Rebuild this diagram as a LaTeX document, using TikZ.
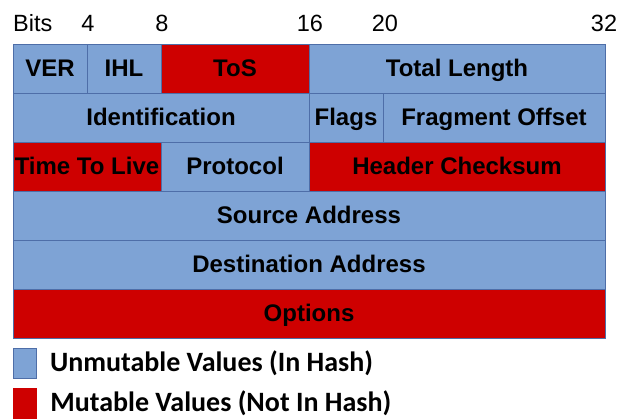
\documentclass[tikz,border=0pt]{standalone}
\usepackage{fontspec}
\setmainfont{Liberation Sans}
\newfontfamily\legendfont{Carlito}
\usetikzlibrary{positioning}
\definecolor{unmut}{RGB}{126,163,213}
\definecolor{mut}{RGB}{206,0,0}
\definecolor{fieldline}{RGB}{78,110,168}

\begin{document}
\begin{tikzpicture}[
      x=1pt, y=1pt,
      field/.style={draw=fieldline, line width=0.8pt, fill=unmut, minimum height=49pt,
        inner sep=0pt, outer sep=0pt, text height=17pt, text depth=0pt,
        font=\bfseries\fontsize{24}{24}\selectfont},
      mutable/.style={field, fill=mut},
      bits/.style={minimum width=#1*18.5pt},
      ruler/.style={font=\fontsize{23.5}{23.5}\selectfont, inner sep=0pt},
      legend/.style={font=\legendfont\bfseries\fontsize{28}{28}\selectfont, inner sep=0pt, anchor=west}
    ]
    \useasboundingbox (0,0) rectangle (619,-419);

    % Bit ruler
    \node[ruler, anchor=west] (bits) at (13,-23) {Bits};
    \node[ruler] (b4) at (88,-23) {4};
    \node[ruler] (b8) at (162,-23) {8};
    \node[ruler] (b16) at (310,-23) {16};
    \node[ruler] (b20) at (385,-23) {20};
    \node[ruler] (b32) at (604,-23) {32};

    % Row 1
    \node[field, bits=4, anchor=north west] (ver) at (13,-44) {VER};
    \node[field, bits=4, right=0pt of ver] (ihl) {IHL};
    \node[mutable, bits=8, right=0pt of ihl] (tos) {ToS};
    \node[field, bits=16, right=0pt of tos] (length) {Total Length};

    % Row 2
    \node[field, bits=16, below=0pt of ver.south west, anchor=north west] (ident) {Identification};
    \node[field, bits=4, right=0pt of ident] (flags) {Flags};
    \node[field, bits=12, right=0pt of flags] (offset) {Fragment Offset};

    % Row 3
    \node[mutable, bits=8, below=0pt of ident.south west, anchor=north west] (ttl) {Time To Live};
    \node[field, bits=8, right=0pt of ttl] (proto) {Protocol};
    \node[mutable, bits=16, right=0pt of proto] (checksum) {Header Checksum};

    % Rows 4-6
    \node[field, bits=32, below=0pt of ttl.south west, anchor=north west] (src) {Source Address};
    \node[field, bits=32, below=0pt of src] (dst) {Destination Address};
    \node[mutable, bits=32, below=0pt of dst] (options) {Options};

    % Legend
    \node[draw=fieldline, line width=0.8pt, fill=unmut, minimum width=23pt, minimum height=30pt,
      inner sep=0pt, anchor=north west] (keyunmut) at (13,-348) {};
    \node[fill=mut, minimum width=24pt, minimum height=31pt, inner sep=0pt,
      below=9pt of keyunmut] (keymut) {};
    \node[legend, right=13pt of keyunmut] (txtunmut) {Unmutable Values (In Hash)};
    \node[legend, right=13pt of keymut] (txtmut) {Mutable Values (Not In Hash)};

  \end{tikzpicture}
\end{document}
